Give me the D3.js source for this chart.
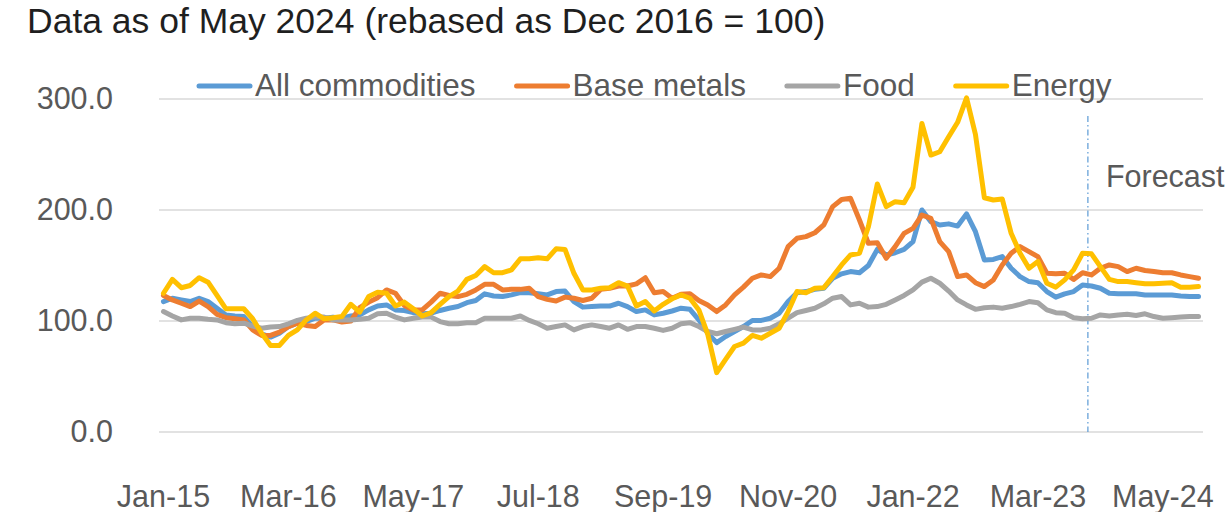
<!DOCTYPE html>
<html>
<head>
<meta charset="utf-8">
<script src="https://cdn.jsdelivr.net/npm/d3@7"></script>
<style>
  html, body { margin: 0; padding: 0; background: #ffffff; }
  svg { display: block; font-family: "Liberation Sans", Arial, sans-serif; }
</style>
</head>
<body>
<svg id="chart" width="1229" height="512"></svg>
<script>
// ---------------- DATA ----------------
const title = "Data as of May 2024 (rebased as Dec 2016 = 100)";
const startMonth = new Date(2015, 0, 1);   // Jan-15
const monthCount = 117;                    // Jan-15 .. Sep-24
const tickLabels = ["Jan-15", "Mar-16", "May-17", "Jul-18", "Sep-19", "Nov-20", "Jan-22", "Mar-23", "May-24"];
const yTicks = [0, 100, 200, 300];
const seriesNames = ["All commodities", "Base metals", "Food", "Energy"];
const forecastLabel = "Forecast";
const forecastAt = 103.6; // month position (after Jan-15) of the forecast divider

const allCommodities = [
  117.5, 120.5, 119, 117.5, 120.5, 117.5, 111.5, 105.5, 104.5, 104,
  95, 88.5, 85.5, 89, 95, 98, 99.5, 102.5, 102.5, 103.5,
  102.5, 104.5, 105.5, 110, 113.5, 114.5, 110, 109.5, 107.5, 106.5,
  107, 109.5, 111.5, 113, 116.5, 118.5, 124.5, 122.5, 122, 123.5,
  125.5, 125.5, 124.5, 123.5, 126.5, 127, 117.5, 112.5, 113, 113.5,
  113.5, 116, 113, 108.5, 110, 105.5, 107, 109, 111.5, 110.5,
  101, 89, 80.5, 86, 90.5, 95, 100.5, 100.5, 102.5, 107,
  117.5, 125.5, 126.5, 128.5, 129.5, 138.5, 142.5, 144.5, 143.5, 150,
  164.5, 159.5, 161.5, 164.5, 171.5, 200, 189.5, 186.5, 187.5, 185.5,
  196.5, 180.5, 155, 155.5, 158, 147.5, 140, 135.5, 134.5, 126.5,
  121.5, 124.5, 126.5, 132.5, 131.5, 129.5, 125, 124.5, 124.5, 124.5,
  123.5, 123.5, 123.5, 123.5, 122.5, 122, 122
];
const baseMetals = [
  123, 119, 116, 113, 118, 113, 106, 103, 102, 101,
  92, 87, 87, 90, 95, 98, 96, 95, 101, 101,
  99, 100, 112, 117, 121, 128, 125, 114, 110, 110,
  117, 125, 123, 122, 124, 128, 133, 133, 128, 128.5,
  128.5, 129.5, 122, 119.5, 118, 121.5, 120.5, 118.5, 120.5, 128.5,
  129.5, 131.5, 131.5, 133.5, 139, 125.5, 126.5, 120.5, 124, 124.5,
  118.5, 114.5, 108.5, 114.5, 123.5, 130.5, 138.5, 141.5, 140, 147.5,
  167, 174.5, 176, 179.5, 186.5, 203, 209.5, 210.5, 191, 170,
  170.5, 156.5, 167, 179, 183.5, 195.5, 192.5, 171.5, 162.5, 140,
  141.5, 134.5, 131, 137, 150.5, 161, 167, 162.5, 158, 143,
  142.5, 143, 137.5, 143.5, 141.5, 147.5, 150.5, 149, 144.5, 147.5,
  145.5, 144.5, 143.5, 143.5, 141.5, 140, 138.5
];
const food = [
  108.5, 104.5, 101, 102.5, 102.5, 101.5, 101, 98.5, 97.5, 98,
  95.5, 93.5, 94.5, 95, 97.5, 100.5, 102.5, 103.5, 103.5, 101,
  101, 101, 101.5, 102.5, 106.5, 107, 103.5, 101, 102.5, 103.5,
  103.5, 99.5, 97.5, 97.5, 98.5, 98.5, 102.5, 102.5, 102.5, 102.5,
  104.5, 100.5, 97.5, 93.5, 95, 96.5, 92, 95, 96.5, 95,
  93.5, 96.5, 92.5, 95, 95, 93.5, 91.5, 93.5, 97.5, 98.5,
  95, 90.5, 88.5, 90.5, 92.5, 94.5, 92, 92, 93.5, 97.5,
  102.5, 107.5, 109.5, 111.5, 115.5, 120.5, 122, 114.5, 116, 112.5,
  113, 115, 119, 123, 128, 135, 138.5, 134, 127, 119,
  114.5, 110.5, 112, 112.5, 111.5, 113, 115, 117.5, 116.5, 110,
  107.5, 107, 103, 102, 102.5, 105.5, 104.5, 105.5, 106, 105,
  106.5, 104, 102.5, 103, 103.5, 104, 104
];
const energy = [
  125, 137.5, 130, 132, 139, 135, 123, 111, 111, 111,
  102, 89, 78, 78, 87, 92, 101, 107, 102, 103,
  104, 115, 108, 122, 126, 125, 113.5, 117, 111, 104.5,
  107.5, 115, 122, 127, 137.5, 141, 149, 143.5, 143.5, 146,
  156, 156, 157, 156, 165, 164.5, 143, 128, 128, 129.5,
  130, 134.5, 131.5, 113.5, 117.5, 109, 115, 120, 123.5, 120.5,
  110, 88, 53.5, 65.5, 77, 80, 87, 84.5, 89, 93.5,
  108.5, 126.5, 125.5, 129.5, 130, 140, 150.5, 159.5, 161, 185,
  223.5, 203, 207.5, 206.5, 220.5, 278, 249.5, 252.5, 266, 279,
  301, 268, 211, 209, 210, 179, 161, 147.5, 153.5, 134,
  130.5, 137, 146, 161, 160.5, 149, 137.5, 135.5, 135.5, 134.5,
  133.5, 133.5, 134, 134.5, 130.5, 130.5, 131
];
const seriesValues = [allCommodities, baseMetals, food, energy];
const seriesColors = ["#5B9BD5", "#ED7D31", "#A5A5A5", "#FFC000"];

// ---------------- BUILD ----------------
const fmt = d3.timeFormat("%b-%y");
const months = d3.timeMonth.range(startMonth, d3.timeMonth.offset(startMonth, monthCount));
const categories = months.map(fmt);

const svg = d3.select("#chart");
const W = 1229, H = 512;
const plot = { left: 159, right: 1203, top: 99, bottom: 432 };

const x = d3.scaleBand().domain(categories).range([plot.left, plot.right]).padding(0);
const xc = c => x(c) + x.bandwidth() / 2;
const y = d3.scaleLinear().domain([0, 300]).range([plot.bottom, plot.top]);

// title
svg.append("text")
  .attr("x", 27).attr("y", 33)
  .attr("font-size", 35.5).attr("fill", "#1f1f1f")
  .text(title);

// gridlines
svg.append("g").selectAll("line").data(yTicks).join("line")
  .attr("x1", plot.left).attr("x2", plot.right)
  .attr("y1", d => y(d)).attr("y2", d => y(d))
  .attr("stroke", "#D9D9D9").attr("stroke-width", 1.5);

// y axis labels
const yAxis = d3.axisLeft(y).tickValues(yTicks).tickFormat(d3.format(".1f")).tickSize(0).tickPadding(0);
const gy = svg.append("g").attr("transform", `translate(113,0)`).call(yAxis);
gy.select(".domain").remove();
gy.selectAll("text").attr("font-size", 30.5).attr("fill", "#595959")
  .attr("font-family", '"Liberation Sans", Arial, sans-serif');

// x axis labels
const xAxis = d3.axisBottom(x).tickValues(tickLabels).tickSize(0).tickPadding(0);
const gx = svg.append("g").attr("transform", `translate(0,0)`).call(xAxis);
gx.select(".domain").remove();
gx.selectAll("text").attr("font-size", 30.5).attr("fill", "#595959")
  .attr("font-family", '"Liberation Sans", Arial, sans-serif')
  .attr("dy", null).attr("y", 507);

// forecast divider
const xi = d3.scaleLinear().domain([0, monthCount - 1]).range([xc(categories[0]), xc(categories[monthCount - 1])]);
svg.append("line")
  .attr("x1", xi(forecastAt)).attr("x2", xi(forecastAt))
  .attr("y1", 116).attr("y2", plot.bottom)
  .attr("stroke", "#5B9BD5").attr("stroke-width", 1.2)
  .attr("stroke-dasharray", "6,3,1.5,3");
svg.append("text")
  .attr("x", xi(forecastAt) + 18).attr("y", 187)
  .attr("font-size", 30.5).attr("fill", "#595959")
  .text(forecastLabel);

// lines
const line = d3.line().x((d, i) => xc(categories[i])).y(d => y(d));
svg.append("g").selectAll("path").data(seriesValues).join("path")
  .attr("d", d => line(d))
  .attr("fill", "none")
  .attr("stroke", (d, i) => seriesColors[i])
  .attr("stroke-width", 5)
  .attr("stroke-linejoin", "round")
  .attr("stroke-linecap", "round");

// legend
const lg = svg.append("g");
let lx = 197;
seriesNames.forEach((name, i) => {
  lg.append("line")
    .attr("x1", lx + 2).attr("x2", lx + 53)
    .attr("y1", 86).attr("y2", 86)
    .attr("stroke", seriesColors[i]).attr("stroke-width", 5)
    .attr("stroke-linecap", "round");
  const t = lg.append("text")
    .attr("x", lx + 58).attr("y", 96)
    .attr("font-size", 31.5).attr("fill", "#595959")
    .text(name);
  lx += 58 + t.node().getComputedTextLength() + 39;
});
</script>
</body>
</html>
